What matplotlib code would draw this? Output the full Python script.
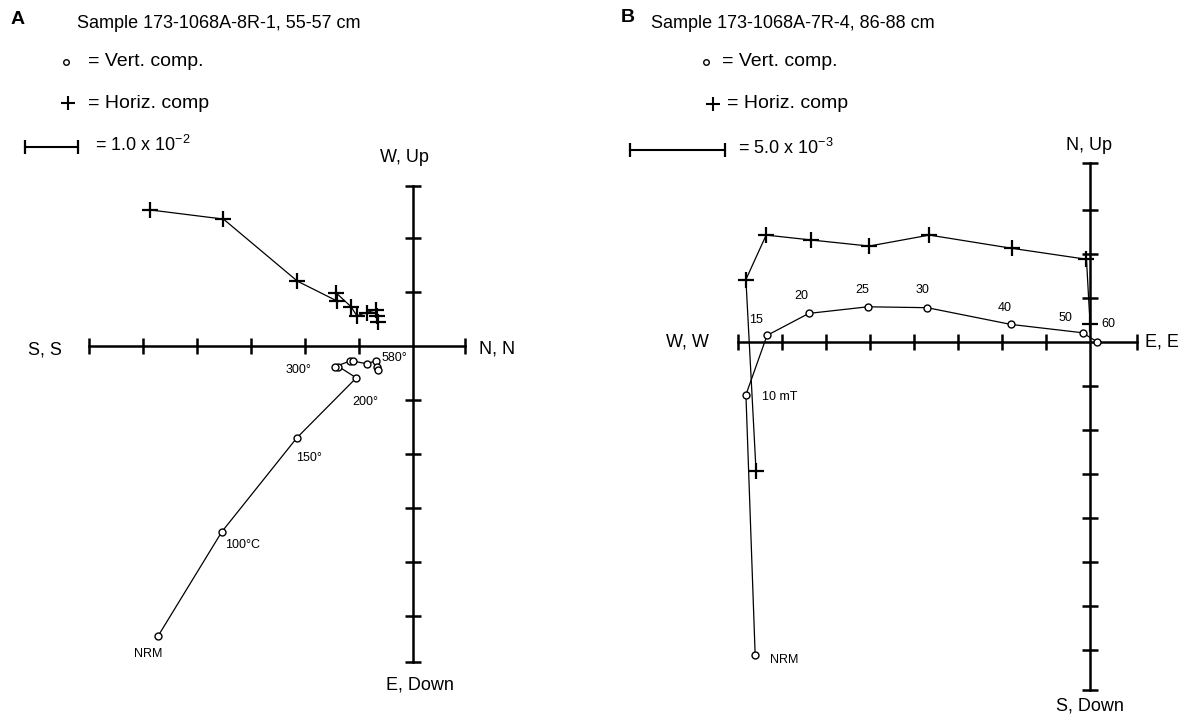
import matplotlib
matplotlib.use("Agg")
import matplotlib.pyplot as plt

plt.rcParams["font.family"] = ["Liberation Sans", "DejaVu Sans"]
plt.rcParams["mathtext.fontset"] = "custom"
plt.rcParams["mathtext.rm"] = "Liberation Sans"
plt.rcParams["mathtext.default"] = "regular"

# Panel A: thermal demagnetization, values in units of 1.0e-2 (one tick)
a_horiz_x = [-4.87, -3.51, -2.14, -1.40, -1.43, -1.15, -1.04, -0.86, -0.69, -0.66, -0.65]
a_horiz_y = [2.52, 2.35, 1.20, 0.83, 0.99, 0.73, 0.56, 0.62, 0.67, 0.56, 0.45]
a_vert_x = [-4.72, -3.54, -2.15, -1.05, -1.38, -1.44, -1.17, -1.11, -0.85, -0.69, -0.67, -0.64]
a_vert_y = [-5.37, -3.44, -1.70, -0.59, -0.38, -0.38, -0.28, -0.28, -0.33, -0.27, -0.38, -0.44]
a_labels = ["NRM", "100°C", "150°", "200°", "300°", "580°"]

# Panel B: AF demagnetization, values in tick units
b_horiz_x = [-7.59, -7.82, -7.36, -6.35, -5.02, -3.65, -1.78, -0.08, 0.00]
b_horiz_y = [-2.93, 1.42, 2.43, 2.32, 2.18, 2.43, 2.13, 1.88, 0.42]
b_vert_x = [-7.61, -7.82, -7.34, -6.39, -5.05, -3.70, -1.80, -0.17, 0.17]
b_vert_y = [-7.11, -1.20, 0.15, 0.65, 0.80, 0.78, 0.40, 0.21, 0.00]
b_labels = ["NRM", "10 mT", "15", "20", "25", "30", "40", "50", "60"]

W, H = 1187, 719
fig = plt.figure(figsize=(W / 100, H / 100), dpi=100)


def make_panel(left, right, ox, oy, unit):
    ax = fig.add_axes([left / W, 0, (right - left) / W, 1])
    ax.set_xlim((left - ox) / unit, (right - ox) / unit)
    ax.set_ylim((oy - H) / unit, oy / unit)
    ax.axis("off")

    def p(px, py):
        return (px - ox) / unit, (oy - py) / unit
    return ax, p


def tick_list(lo, hi):
    vals = [v for v in range(int(lo), int(hi) + 1)
            if v != 0 and abs(v - lo) > 0.2 and abs(v - hi) > 0.2]
    return vals + [lo, hi]


def draw_cross(ax, xmin, xmax, ymin, ymax):
    ax.plot([xmin, xmax], [0, 0], color="black", lw=1.8, zorder=1)
    ax.plot([0, 0], [ymin, ymax], color="black", lw=1.8, zorder=1)
    xt = tick_list(xmin, xmax)
    yt = tick_list(ymin, ymax)
    ax.plot(xt, [0] * len(xt), ls="none", marker="|", ms=11.5, mew=1.8, color="black")
    ax.plot([0] * len(yt), yt, ls="none", marker="_", ms=11.5, mew=1.8, color="black")


def draw_data(ax, hx, hy, vx, vy):
    ax.plot(hx, hy, color="black", lw=0.9, marker="+", ms=11, mew=1.6, zorder=3)
    ax.plot(vx, vy, color="black", lw=0.9, marker="o", ms=5, mew=1,
            mfc="white", mec="black", zorder=3)


def draw_legend(ax, p, letter, letter_xy, title, title_xy, circ_xy, circ_txt_x,
                plus_xy, plus_txt_x, bar_x0, bar_x1, bar_y, bar_txt_x, bar_txt):
    ax.text(*p(*letter_xy), letter, fontsize=14, fontweight="bold", va="center")
    ax.text(*p(*title_xy), title, fontsize=13, va="center")
    ax.plot(*p(*circ_xy), marker="o", ms=4, mfc="white", mec="black", mew=1)
    ax.text(*p(circ_txt_x, circ_xy[1]), "= Vert. comp.", fontsize=14, va="center")
    ax.plot(*p(*plus_xy), marker="+", ms=10, mew=1.5, color="black")
    ax.text(*p(plus_txt_x, plus_xy[1]), "= Horiz. comp", fontsize=14, va="center")
    (x0, y0), (x1, _) = p(bar_x0, bar_y), p(bar_x1, bar_y)
    ax.plot([x0, x1], [y0, y0], color="black", lw=1.5, marker="|", ms=10, mew=1.6)
    ax.text(*p(bar_txt_x, bar_y - 2), bar_txt, fontsize=13, va="center")


# ---- Panel A ----
axA, pA = make_panel(0, 590, 413, 346, 54)
draw_cross(axA, -6.0, 0.96, -5.85, 2.96)
draw_data(axA, a_horiz_x, a_horiz_y, a_vert_x, a_vert_y)
for txt, xy in zip(a_labels, [(148, 654), (243, 545), (309, 458), (365, 402), (298, 370), (394, 358)]):
    axA.text(*pA(*xy), txt, fontsize=9, ha="center", va="center")
axA.text(*pA(404, 158), "W, Up", fontsize=13, ha="center", va="center")
axA.text(*pA(420, 685), "E, Down", fontsize=13, ha="center", va="center")
axA.text(*pA(45, 350), "S, S", fontsize=13, ha="center", va="center")
axA.text(*pA(497, 349), "N, N", fontsize=13, ha="center", va="center")
draw_legend(axA, pA, "A", (11, 20), "Sample 173-1068A-8R-1, 55-57 cm", (77, 23),
            (66, 62), 88, (68, 103), 88, 25, 78, 147, 95, "= 1.0 x 10$^{-2}$")

# ---- Panel B ----
axB, pB = make_panel(590, W, 1090, 342, 44)
draw_cross(axB, -8.0, 1.07, -7.9, 4.07)
draw_data(axB, b_horiz_x, b_horiz_y, b_vert_x, b_vert_y)
b_pos = [(770, 660, "left"), (762, 397, "left"), (756, 320, "center"), (801, 296, "center"),
         (862, 290, "center"), (923, 290, "center"), (1005, 308, "center"),
         (1065, 318, "center"), (1108, 324, "center")]
for txt, (x, y, ha) in zip(b_labels, b_pos):
    axB.text(*pB(x, y), txt, fontsize=9, ha=ha, va="center")
axB.text(*pB(1089, 146), "N, Up", fontsize=13, ha="center", va="center")
axB.text(*pB(1090, 706), "S, Down", fontsize=13, ha="center", va="center")
axB.text(*pB(687, 342), "W, W", fontsize=13, ha="center", va="center")
axB.text(*pB(1162, 342), "E, E", fontsize=13, ha="center", va="center")
draw_legend(axB, pB, "B", (621, 18), "Sample 173-1068A-7R-4, 86-88 cm", (651, 23),
            (706, 62), 722, (713, 104), 727, 630, 725, 150, 738, "= 5.0 x 10$^{-3}$")

fig.savefig("out.png", dpi=100)
